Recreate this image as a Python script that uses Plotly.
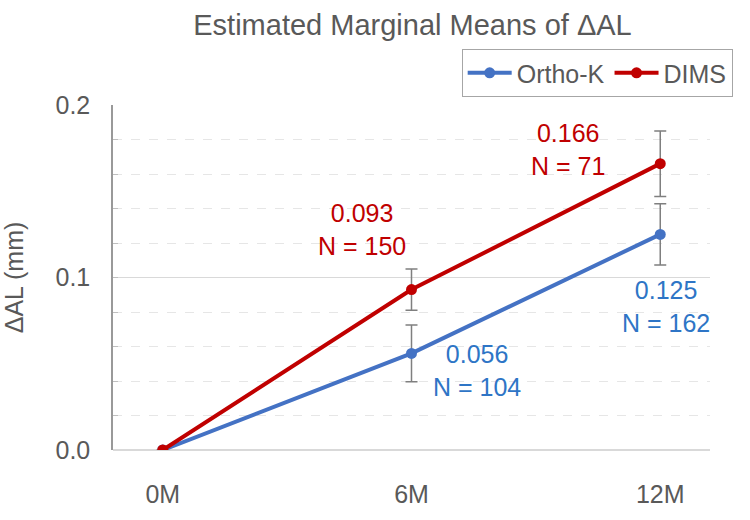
import plotly.graph_objects as go

categories = ["0M", "6M", "12M"]
orthok = [0.0, 0.056, 0.125]
orthok_err = [0.0, 0.0165, 0.0177]
dims = [0.0, 0.093, 0.166]
dims_err = [0.0, 0.012, 0.019]
orthok_n = [None, 104, 162]
dims_n = [None, 150, 71]

BLUE = "#4472C4"
RED = "#C00000"
LBLUE = "#2E75C6"
GRAY = "#595959"
FONT = "Arial"

fig = go.Figure()
fig.add_trace(go.Scatter(
    x=categories, y=orthok, name="Ortho-K", mode="lines+markers",
    line=dict(color=BLUE, width=4), marker=dict(size=11, color=BLUE),
    error_y=dict(type="data", array=orthok_err, color="#7F7F7F", thickness=1.5, width=6),
))
fig.add_trace(go.Scatter(
    x=categories, y=dims, name="DIMS", mode="lines+markers",
    line=dict(color=RED, width=4), marker=dict(size=11, color=RED),
    error_y=dict(type="data", array=dims_err, color="#7F7F7F", thickness=1.5, width=6),
))

# value labels
label_offsets_dims = {1: (-50, 60), 2: (-92, 14)}
label_offsets_ok = {1: (65, -17), 2: (6, -72)}
for i, (xs, ys) in label_offsets_dims.items():
    fig.add_annotation(x=i, y=dims[i], xref="x", yref="y",
                       text=f"{dims[i]:.3f}<br>N = {dims_n[i]}", showarrow=False,
                       xshift=xs, yshift=ys, font=dict(color=RED, size=25, family=FONT))
for i, (xs, ys) in label_offsets_ok.items():
    fig.add_annotation(x=i, y=orthok[i], xref="x", yref="y",
                       text=f"{orthok[i]:.3f}<br>N = {orthok_n[i]}", showarrow=False,
                       xshift=xs, yshift=ys, font=dict(color=LBLUE, size=25, family=FONT))

fig.update_layout(
    width=750, height=520,
    margin=dict(l=110, r=40, t=105, b=69),
    paper_bgcolor="white", plot_bgcolor="white",
    font=dict(family=FONT, color=GRAY),
    title=dict(text="Estimated Marginal Means of ΔAL", x=0.55, xanchor="center",
               y=0.952, yanchor="middle", font=dict(size=29, color=GRAY)),
    legend=dict(orientation="h", x=1.038, xanchor="right", y=1.162, yanchor="top",
                bordercolor="#A6A6A6", borderwidth=1, font=dict(size=25, color=GRAY),
                itemwidth=44),
    showlegend=True,
)
fig.update_xaxes(
    type="category", range=[-0.2, 2.2],
    showline=False, showgrid=False, zeroline=False,
    ticks="", ticklabelstandoff=27, tickfont=dict(size=25, color=GRAY),
)
fig.update_yaxes(
    range=[0, 0.2], dtick=0.1, tickformat=".1f",
    showline=True, linecolor="#999999", linewidth=1.5,
    showgrid=True, gridcolor="#D9D9D9", gridwidth=1,
    zeroline=True, zerolinecolor="#D9D9D9", zerolinewidth=2,
    minor=dict(dtick=0.02, showgrid=True, griddash="dash", gridcolor="#E6E6E6", gridwidth=1,
               ticks="inside", ticklen=5, tickcolor="#BFBFBF"),
    ticks="inside", ticklen=5, tickcolor="#BFBFBF",
    ticklabelstandoff=16, tickfont=dict(size=25, color=GRAY),
    title=dict(text="ΔAL (mm)", font=dict(size=25, color=GRAY), standoff=26),
)

fig.write_html("out.html")
